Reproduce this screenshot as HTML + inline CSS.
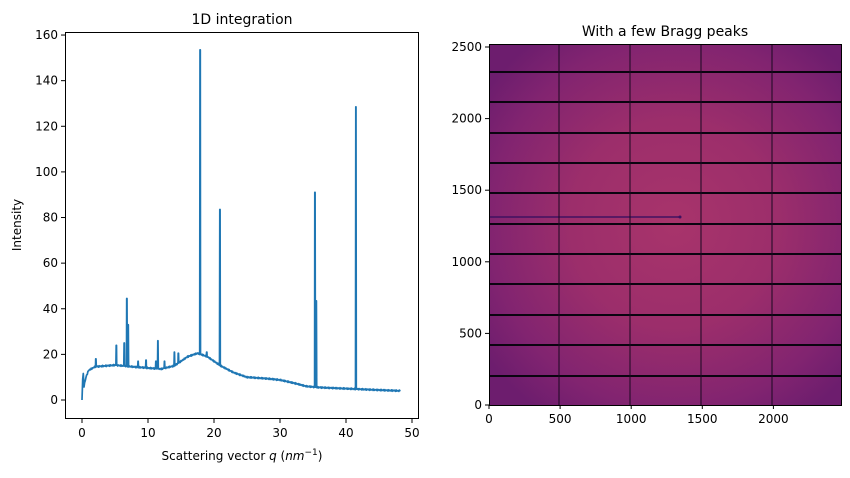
<!DOCTYPE html>
<html><head><meta charset="utf-8"><style>
html,body{margin:0;padding:0;background:#fff;}
svg{display:block;font-family:"DejaVu Sans","Liberation Sans",sans-serif;}
</style></head><body>
<svg id="s" width="850" height="478" viewBox="0 0 850 478">
<defs>
<radialGradient id="g" cx="674" cy="224" r="230" gradientUnits="userSpaceOnUse">
<stop offset="0" stop-color="#a8346b"/>
<stop offset="0.45" stop-color="#9c2e6b"/>
<stop offset="0.8" stop-color="#822470"/>
<stop offset="1" stop-color="#6d1d6e"/>
</radialGradient>
</defs>
<text x="242" y="24" font-size="14" text-anchor="middle">1D integration</text>
<path id="line" fill="none" stroke="#1f77b4" stroke-width="1.7" stroke-linejoin="round"/>
<rect x="65.5" y="32.5" width="353" height="386" fill="none" stroke="#000" stroke-width="1"/>
<g id="lt" font-size="12" fill="#000"></g>
<text x="242" y="460" font-size="12" text-anchor="middle">Scattering vector <tspan font-style="italic">q</tspan> (<tspan font-style="italic">nm</tspan><tspan font-size="9" dy="-5">−1</tspan><tspan dy="5">)</tspan></text>
<text transform="translate(21,225) rotate(-90)" font-size="12" text-anchor="middle">Intensity</text>
<text x="665" y="36" font-size="14" text-anchor="middle">With a few Bragg peaks</text>
<rect x="489" y="44" width="352" height="361" fill="url(#g)"/>
<line x1="489" y1="217" x2="680" y2="217" stroke="#3c1060" stroke-width="2" opacity="0.7"/>
<circle cx="680" cy="217" r="1.5" fill="#3c1060"/>
<g id="grid"></g>
<rect x="489.5" y="44.5" width="352" height="361" fill="none" stroke="#000" stroke-width="1"/>
<g id="rt" font-size="12"></g>
</svg>
<script>
const NS="http://www.w3.org/2000/svg";
function el(p,t,a,txt){const e=document.createElementNS(NS,t);for(const k in a)e.setAttribute(k,a[k]);if(txt!==undefined)e.textContent=txt;p.appendChild(e);return e;}
const X=q=>82+6.6*q, Y=v=>400-2.281*v;
const base=[[0,0],[0.15,14],[0.3,6],[0.6,10],[1,13],[2,14.6],[5,15.3],[8,14.5],[12,13.6],[14,15],[16,19],[17.5,20.5],[19,19],[21,15],[23,12],[25,10],[28,9.4],[30,8.8],[32,7.5],[34,6],[36,5.5],[40,5],[44,4.5],[48.3,4]];
function b(q){for(let i=0;i<base.length-1;i++){const [a,va]=base[i],[c,vc]=base[i+1];if(q>=a&&q<=c)return va+(vc-va)*(q-a)/(c-a);}return 4;}
const peaks={2.1:18,5.2:24,6.4:25,6.8:44.5,7.0:33,8.5:17,9.7:17.5,11.2:17,11.5:26,12.5:17,14:21,14.6:20.5,17.9:153.5,18.9:21,20.9:83.5,35.3:91,35.5:43.5,41.5:128.5};
let pts=[];let qs=[];
for(let q=0;q<=48.3;q+=0.1)qs.push(+q.toFixed(2));
for(const k in peaks)qs.push(+k);
qs.sort((a,b)=>a-b);
for(const q of qs){const p=peaks[q];const v=b(q)+(Math.sin(q*37)*0.3);if(p!==undefined){pts.push([X(q-0.06),Y(b(q))],[X(q-0.02),Y(p)],[X(q+0.02),Y(p)],[X(q+0.06),Y(b(q))]);}else pts.push([X(q),Y(v)]);}
document.getElementById('line').setAttribute('d','M'+pts.map(p=>p[0].toFixed(1)+','+p[1].toFixed(1)).join('L'));
const lt=document.getElementById('lt');
for(let v=0;v<=160;v+=20){const y=Y(v);el(lt,'line',{x1:61,x2:65.5,y1:y,y2:y,stroke:'#000'});el(lt,'text',{x:58,y:y+4,'text-anchor':'end'},v);}
for(let q=0;q<=50;q+=10){const x=X(q);el(lt,'line',{x1:x,x2:x,y1:418.5,y2:423,stroke:'#000'});el(lt,'text',{x:x,y:437,'text-anchor':'middle'},q);}
const g=document.getElementById('grid');
for(const y of [72,102,133,163,193,224,254,284,315,345,376])el(g,'line',{x1:489,x2:841,y1:y,y2:y,stroke:'#0a0410','stroke-width':2});
for(const x of [559,630,701,772])el(g,'line',{x1:x,x2:x,y1:44,y2:405,stroke:'#1a0820','stroke-width':1});
const rt=document.getElementById('rt');
const YI=v=>405-0.1432*v, XI=v=>489+0.1422*v;
for(let v=0;v<=2500;v+=500){const y=YI(v);el(rt,'line',{x1:485,x2:489,y1:y,y2:y,stroke:'#000'});el(rt,'text',{x:482,y:y+4,'text-anchor':'end'},v);}
for(let v=0;v<=2000;v+=500){const x=XI(v);el(rt,'line',{x1:x,x2:x,y1:405,y2:409,stroke:'#000'});el(rt,'text',{x:x,y:423,'text-anchor':'middle'},v);}
</script>
</body></html>
